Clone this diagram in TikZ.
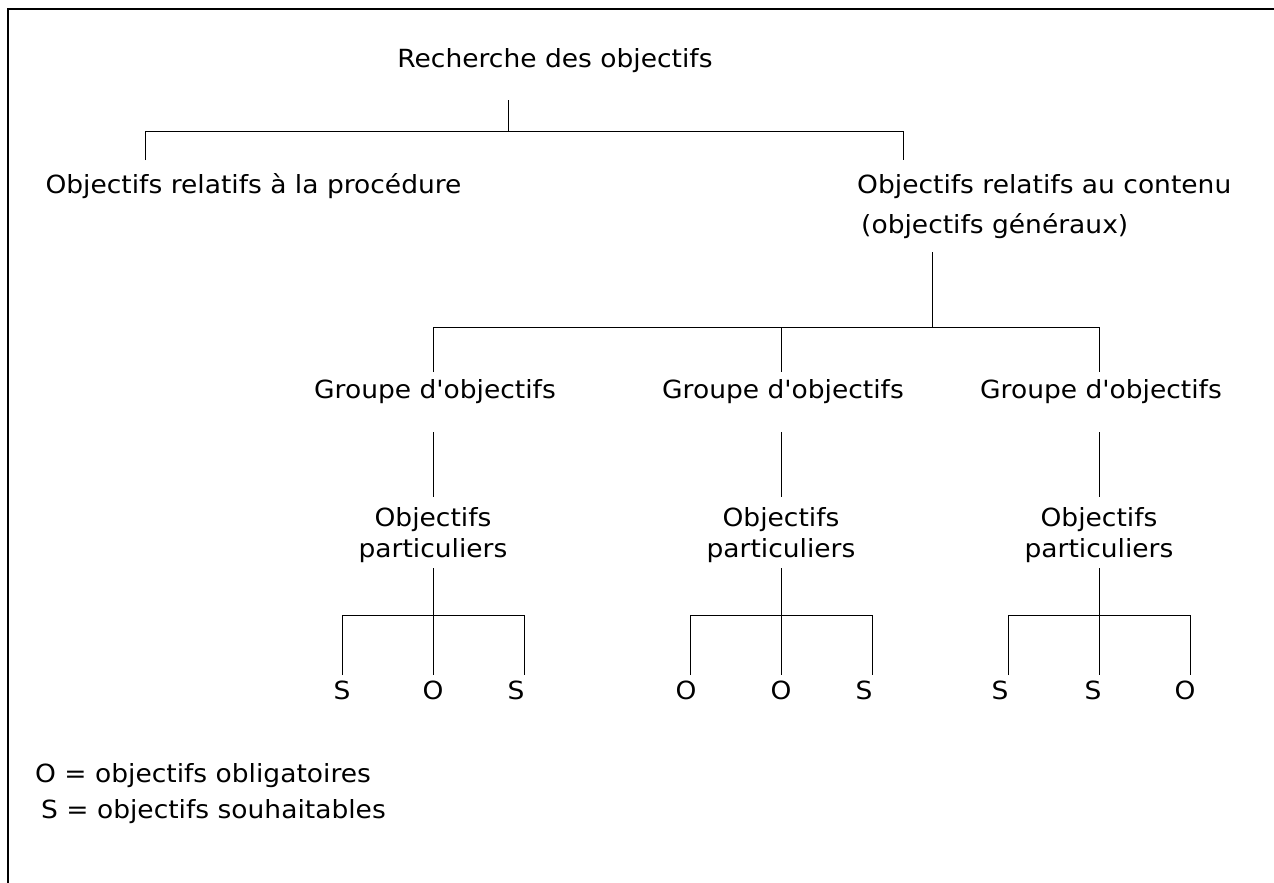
\documentclass[tikz,border=0pt]{standalone}
\usepackage{fontspec}
\setmainfont{DejaVu Sans}[FakeStretch=1.06, Ligatures=TeXOff]
\begin{document}
\begin{tikzpicture}[x=1pt,y=-1pt,
  lbl/.style={inner sep=0pt, font=\fontsize{25}{31}\selectfont},
  conn/.style={line width=1pt, black},
  frame/.style={line width=2pt, black}]
\useasboundingbox (0,0) rectangle (1274,883);
% open frame: top and left edges only
\coordinate (fTL) at (8,9);
\coordinate (fTR) at (1274,9);
\coordinate (fBL) at (8,883);
\draw[frame] (fTR) -- (fTL) -- (fBL);

% top level
\node[lbl, anchor=base] (root) at (555,67) {Recherche des objectifs};
\node[lbl, anchor=base] (proc) at (253.5,193) {Objectifs relatifs à la procédure};
\node[lbl, anchor=base west] (cont) at (857,193) {Objectifs relatifs au contenu};
\node[lbl, anchor=base west] (gen) at (861,233) {(objectifs généraux)};

\coordinate (r0) at (508,100);
\coordinate (r1) at (508,131);
\coordinate (rL) at (145,131);
\coordinate (rR) at (903,131);
\coordinate (rLd) at (145,160);
\coordinate (rRd) at (903,160);
\draw[conn] (r0) -- (r1);
\draw[conn] (rLd) -- (rL) -- (rR) -- (rRd);

% content objectives split into three groups
\coordinate (c0) at (932,252);
\coordinate (c1) at (932,327);
\draw[conn] (c0) -- (c1);
\draw[conn] (433,372) -- (433,327) -- (1099,327) -- (1099,372);
\draw[conn] (781,327) -- (781,372);

\foreach \n/\x in {1/433, 2/781, 3/1099}{
  \node[lbl, anchor=base] (grp\n) at (\x+2,398) {Groupe d'objectifs};
  \node[lbl, align=center] (part\n) at (\x,535) {Objectifs\\particuliers};
  \coordinate (ga\n) at (\x,432);
  \coordinate (gb\n) at (\x,497);
  \draw[conn] (ga\n) -- (gb\n);
  \coordinate (pa\n) at (\x,568);
  \coordinate (pb\n) at (\x,615);
  \draw[conn] (pa\n) -- (pb\n);
  \draw[conn] (\x-91,675) -- (\x-91,615) -- (\x+91,615) -- (\x+91,675);
  \draw[conn] (pb\n) -- (\x,675);
}

% leaves
\node[lbl, anchor=base] (l11) at (342,699) {S};
\node[lbl, anchor=base] (l12) at (433,699) {O};
\node[lbl, anchor=base] (l13) at (516,699) {S};
\node[lbl, anchor=base] (l21) at (686,699) {O};
\node[lbl, anchor=base] (l22) at (781,699) {O};
\node[lbl, anchor=base] (l23) at (864,699) {S};
\node[lbl, anchor=base] (l31) at (1000,699) {S};
\node[lbl, anchor=base] (l32) at (1093,699) {S};
\node[lbl, anchor=base] (l33) at (1185,699) {O};

% legend
\node[lbl, anchor=base west] (legO) at (35,782) {O = objectifs obligatoires};
\node[lbl, anchor=base west] (legS) at (41,818) {S = objectifs souhaitables};
\end{tikzpicture}
\end{document}
